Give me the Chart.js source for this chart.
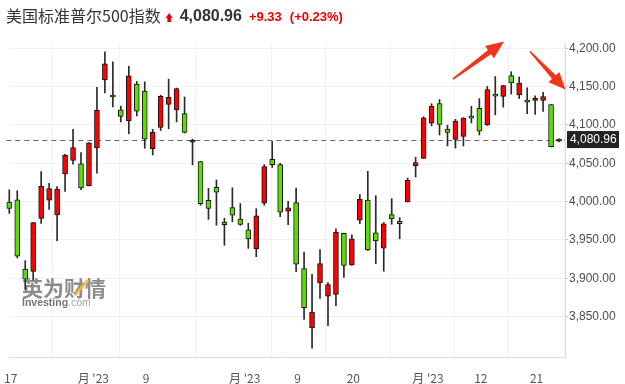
<!DOCTYPE html>
<html><head><meta charset="utf-8">
<script src="https://cdn.jsdelivr.net/npm/chart.js@4/dist/chart.umd.min.js"></script>
<style>html,body{margin:0;padding:0;background:#fff}#wrap{width:625px;height:384px;position:relative}</style>
</head><body><div id="wrap"><canvas id="c" width="625" height="384"></canvas></div>
<script>
// ---- data ----
const dates = ['01-17','01-18','01-19','01-20','01-23','01-24','01-25','01-26','01-27','01-30','01-31',
 '02-01','02-02','02-03','02-06','02-07','02-08','02-09','02-10','02-13','02-14','02-15','02-16','02-17','02-21','02-22','02-23','02-24','02-27','02-28',
 '03-01','03-02','03-03','03-06','03-07','03-08','03-09','03-10','03-13','03-14','03-15','03-16','03-17','03-20','03-21','03-22','03-23','03-24','03-27','03-28','03-29','03-30','03-31',
 '04-03','04-04','04-05','04-06','04-10','04-11','04-12','04-13','04-14','04-17','04-18','04-19','04-20','04-21','04-24','04-25','04-26'];
const openV = [3999.28,4002.25,3911.84,3909.04,3978.14,4001.74,3982.71,4036.08,4053.72,4049.27,4020.85,
 4070.07,4158.68,4136.69,4119.57,4105.35,4153.47,4144.25,4068.92,4096.62,4126.70,4119.50,4114.75,4077.39,4052.35,4001.83,4018.60,3973.24,3992.36,3977.19,
 3963.34,3938.68,3998.02,4055.15,4048.26,3987.55,3998.66,3912.77,3835.12,3894.01,3876.74,3878.93,3958.69,3917.47,3975.89,4002.04,3959.21,3939.21,3982.93,3974.13,3999.53,4046.74,4056.18,
 4102.20,4128.03,4094.50,4081.15,4085.20,4110.29,4121.72,4100.04,4140.11,4137.17,4164.26,4139.33,4130.48,4132.14,4132.07,4126.43,4079.00];
const highV = [4015.39,4014.16,3922.94,3972.96,4039.31,4023.92,4019.55,4061.57,4094.21,4063.85,4077.16,
 4148.95,4195.44,4182.36,4124.63,4176.54,4156.85,4156.23,4094.36,4138.90,4159.77,4148.11,4136.54,4081.51,4052.35,4017.37,4028.30,3978.25,4018.05,3997.50,
 3971.73,3990.84,4048.29,4078.49,4050.00,4000.41,4017.81,3934.05,3905.05,3937.29,3894.26,3964.46,3958.91,3956.62,4009.08,4039.49,4007.66,3972.74,4003.83,3979.20,4030.59,4057.85,4110.75,
 4127.66,4133.13,4099.69,4107.32,4109.50,4124.26,4134.37,4150.26,4163.19,4151.72,4169.48,4162.57,4148.57,4138.02,4142.41,4126.43,4082.00];
const lowV = [3984.57,3926.59,3885.54,3897.86,3971.64,3989.79,3949.06,4013.29,4048.70,4015.55,4020.44,
 4037.20,4141.88,4123.36,4103.98,4088.39,4111.67,4069.67,4060.79,4092.67,4095.01,4103.98,4089.49,4047.95,3995.19,3976.90,3969.19,3943.08,3973.55,3968.98,
 3939.05,3928.16,3995.17,4044.61,3980.31,3969.76,3908.70,3846.32,3808.86,3873.63,3838.24,3864.11,3901.27,3916.89,3971.19,3936.17,3919.05,3909.16,3970.49,3951.53,3999.53,4032.10,4056.18,
 4098.79,4086.87,4072.56,4069.84,4072.55,4102.61,4086.94,4099.40,4113.20,4123.18,4140.36,4134.49,4114.57,4113.86,4117.77,4071.38,4078.00];
const closeV = [3990.97,3928.86,3898.85,3972.61,4019.81,4016.95,4016.22,4060.43,4070.56,4017.77,4076.60,
 4119.21,4179.76,4136.48,4111.08,4164.00,4117.86,4081.50,4090.46,4137.29,4136.13,4147.60,4090.41,4079.09,3997.34,3991.05,4012.32,3970.04,3982.24,3970.15,
 3951.39,3981.35,4045.64,4048.26,3986.37,3992.01,3918.32,3861.59,3855.76,3919.29,3891.93,3960.28,3916.64,3951.57,4002.87,3936.97,3948.72,3970.99,3977.53,3971.27,4027.81,4050.83,4109.31,
 4124.51,4100.60,4090.38,4105.02,4109.11,4108.94,4091.95,4146.22,4137.64,4151.32,4154.87,4154.52,4129.79,4133.52,4137.04,4071.63,4080.96];
const xTickIndex = [0, 11, 17, 30, 36, 43, 53, 59, 66];
const xTickLabels = ['17', "月 '23", '9', "月 '23", '9', '20', "月 '23", '12', '21'];
const yTicks = [3850, 3900, 3950, 4000, 4050, 4100, 4150, 4200];
const titleText = '美国标准普尔500指数';
const lastPrice = 4080.96;
const changeText = '+9.33';
const changePctText = '(+0.23%)';

// ---- helpers ----
const fmt = v => v.toLocaleString('en-US', {minimumFractionDigits: 2, maximumFractionDigits: 2});
const UP = '#ff0000', DOWN = '#5fdc00';
const candleColors = openV.map((o, i) => closeV[i] >= o ? UP : DOWN);
const LATIN = '"Liberation Sans", Arial, sans-serif';
const CJK = '"Noto Sans CJK SC", "Liberation Sans", sans-serif';

function drawArrow(ctx, x0, y0, x1, y1, headLen, headHalf, tailHalf, shaftHalf) {
  const dx = x1 - x0, dy = y1 - y0, L = Math.hypot(dx, dy);
  const ux = dx / L, uy = dy / L, px = -uy, py = ux;
  const bx = x1 - ux * headLen, by = y1 - uy * headLen;
  ctx.beginPath();
  ctx.moveTo(x0 + px * tailHalf, y0 + py * tailHalf);
  ctx.lineTo(bx + px * shaftHalf, by + py * shaftHalf);
  ctx.lineTo(bx + px * headHalf, by + py * headHalf);
  ctx.lineTo(x1, y1);
  ctx.lineTo(bx - px * headHalf, by - py * headHalf);
  ctx.lineTo(bx - px * shaftHalf, by - py * shaftHalf);
  ctx.lineTo(x0 - px * tailHalf, y0 - py * tailHalf);
  ctx.closePath();
  ctx.fill();
}

const deco = {
  id: 'deco',
  beforeDatasetsDraw(chart) {
    const {ctx, chartArea: a, scales: {y}} = chart;
    ctx.save();
    // watermark
    ctx.globalAlpha = 0.9;
    ctx.fillStyle = '#7f7f7f';
    ctx.font = 'bold 21px ' + CJK;
    ctx.textBaseline = 'middle';
    ctx.fillText('英为财情', 22, 288);
    ctx.strokeStyle = '#f6b73c';
    ctx.lineWidth = 3;
    ctx.beginPath(); ctx.moveTo(75, 295); ctx.lineTo(88, 280); ctx.stroke();
    ctx.font = 'bold 10.5px ' + LATIN;
    ctx.fillStyle = '#666';
    ctx.fillText('Investing', 22, 303);
    const w = ctx.measureText('Investing').width;
    ctx.font = '10.5px ' + LATIN;
    ctx.fillStyle = '#999';
    ctx.fillText('.com', 22 + w, 303);
    ctx.globalAlpha = 1;
    // dashed last price line
    const py = Math.round(y.getPixelForValue(lastPrice)) + 0.5;
    ctx.strokeStyle = '#666';
    ctx.lineWidth = 1;
    ctx.setLineDash([5, 4]);
    ctx.beginPath(); ctx.moveTo(a.left - 3, py); ctx.lineTo(a.right, py); ctx.stroke();
    ctx.restore();
  },
  afterDraw(chart) {
    const {ctx, chartArea: a, scales: {y}} = chart;
    ctx.save();
    // price label box
    const py = y.getPixelForValue(lastPrice);
    ctx.fillStyle = '#222';
    ctx.fillRect(a.right + 2, py - 8.5, 52, 17);
    ctx.fillStyle = '#fff';
    ctx.font = '12px ' + LATIN;
    ctx.textBaseline = 'middle';
    ctx.fillText(fmt(lastPrice), a.right + 5, py + 0.5);
    // title
    ctx.fillStyle = '#333';
    ctx.font = '16px ' + CJK;
    ctx.fillText(titleText, 6, 16);
    let x = 6 + ctx.measureText(titleText).width + 5;
    // up icon
    ctx.fillStyle = '#e60000';
    ctx.beginPath();
    ctx.moveTo(x, 18); ctx.lineTo(x + 3.5, 13); ctx.lineTo(x + 7, 18);
    ctx.lineTo(x + 5.3, 18); ctx.lineTo(x + 5.3, 22); ctx.lineTo(x + 1.7, 22); ctx.lineTo(x + 1.7, 18);
    ctx.closePath(); ctx.fill();
    x += 14;
    ctx.fillStyle = '#333';
    ctx.font = 'bold 16px ' + LATIN;
    ctx.fillText(fmt(lastPrice), x, 17);
    x += ctx.measureText(fmt(lastPrice)).width + 7;
    ctx.fillStyle = '#ee0000';
    ctx.font = 'bold 13px ' + LATIN;
    ctx.fillText(changeText, x, 17);
    x += ctx.measureText(changeText).width + 8;
    ctx.fillText(changePctText, x, 17);
    // annotation arrows
    ctx.fillStyle = '#f2361e';
    drawArrow(ctx, 453, 79, 504, 41.5, 18, 7.5, 0.8, 2.6);
    drawArrow(ctx, 530, 51.5, 565.5, 89.5, 17, 7.5, 0.8, 2.6);
    ctx.restore();
  }
};

new Chart(document.getElementById('c'), {
  type: 'bar',
  data: {
    datasets: [
      {
        label: 'body',
        data: openV.map((o, i) => ({x: i, y: [o, closeV[i]]})),
        backgroundColor: candleColors,
        borderColor: '#151515',
        borderWidth: 1,
        borderSkipped: false,
        barThickness: 5,
        minBarLength: 2,
        grouped: false,
        clip: false
      },
      {
        label: 'wick',
        data: lowV.map((l, i) => ({x: i, y: [l, highV[i]]})),
        backgroundColor: '#2a2a2a',
        borderWidth: 0,
        barThickness: 1,
        grouped: false,
        clip: false
      }
    ]
  },
  options: {
    animation: false,
    responsive: false,
    events: [],
    layout: {padding: {left: 9.3, top: 43, right: 0, bottom: 0}},
    plugins: {legend: {display: false}, tooltip: {enabled: false}},
    scales: {
      x: {
        type: 'linear', min: 0, max: 69.75, offset: false,
        grid: {color: '#f1f1f1', drawTicks: false},
        border: {color: '#d9dce4'},
        afterBuildTicks: s => { s.ticks = xTickIndex.map((v, k) => ({value: v + (xTickLabels[k].includes('月') ? -0.45 : 0.18)})); },
        ticks: {
          autoSkip: false, maxRotation: 0, minRotation: 0, padding: 14, color: '#555',
          font: {family: CJK, size: 12},
          callback: (v, k) => xTickLabels[k]
        },
        afterFit: s => { s.height = 27; s.paddingLeft = 0; s.paddingRight = 0; }
      },
      y: {
        position: 'right', min: 3797.3, max: 4206.9,
        grid: {color: '#f1f1f1', tickLength: 3, tickColor: '#c8c8c8'},
        border: {color: '#d9dce4'},
        afterBuildTicks: s => { s.ticks = yTicks.map(v => ({value: v})); },
        ticks: {padding: 1, color: '#4d4d4d', font: {family: LATIN, size: 12}, callback: v => fmt(v)},
        afterFit: s => { s.width = 60; s.paddingTop = 0; s.paddingBottom = 0; }
      }
    }
  },
  plugins: [deco]
});
</script>
</body></html>
